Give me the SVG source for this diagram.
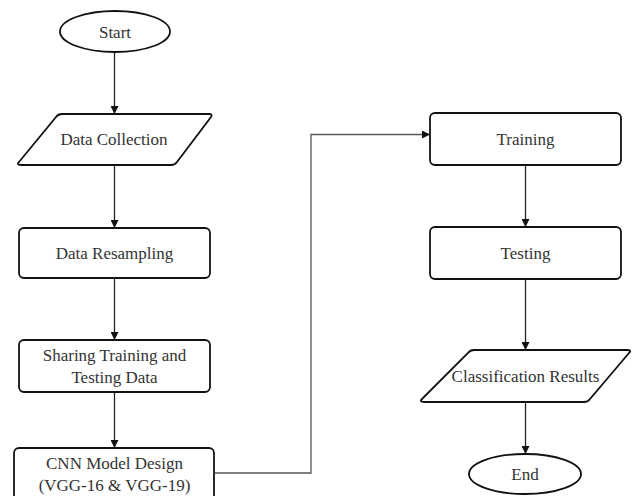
<svg xmlns="http://www.w3.org/2000/svg" width="634" height="496" viewBox="0 0 634 496">
<defs>
<style>
.shape{fill:#fff;stroke:#111;stroke-width:1.8;}
.lbl{font-family:"Liberation Serif","Times New Roman",serif;font-size:17px;fill:#333;text-anchor:middle;}
.conn{fill:none;stroke:#222;stroke-width:1.3;}
.conn2{fill:none;stroke:#555;stroke-width:1.3;}
</style>
<marker id="arr" viewBox="0 0 10 10" refX="10" refY="5" markerWidth="8" markerHeight="8" markerUnits="userSpaceOnUse" orient="auto">
<path d="M0,0 L10,5 L0,10 z" fill="#111"/>
</marker>
</defs>
<rect width="634" height="496" fill="#fff"/>
<g id="connectors">
<line class="conn" x1="114.5" y1="52" x2="114.5" y2="114" marker-end="url(#arr)"/>
<line class="conn" x1="114.5" y1="165" x2="114.5" y2="228" marker-end="url(#arr)"/>
<line class="conn" x1="114.5" y1="278" x2="114.5" y2="340" marker-end="url(#arr)"/>
<line class="conn" x1="114.5" y1="392" x2="114.5" y2="448" marker-end="url(#arr)"/>
<polyline class="conn2" points="215,473 311,473 311,134.5 430,134.5" marker-end="url(#arr)"/>
<line class="conn" x1="525.5" y1="165" x2="525.5" y2="227" marker-end="url(#arr)"/>
<line class="conn" x1="525.5" y1="279" x2="525.5" y2="350" marker-end="url(#arr)"/>
<line class="conn" x1="525.5" y1="402" x2="525.5" y2="454" marker-end="url(#arr)"/>
</g>
<g id="start">
<ellipse class="shape" cx="115" cy="31.5" rx="55" ry="20.5"/>
<text class="lbl" x="115" y="37.5">Start</text>
</g>
<g id="data-collection">
<path class="shape" d="M62,114 L209,114 Q213,114 211,117 L177,162 Q175,165 171,165 L21,165 Q16,165 19,162 L56,117 Q58,114 62,114 Z"/>
<text class="lbl" x="114" y="144.5">Data Collection</text>
</g>
<g id="data-resampling">
<rect class="shape" x="19" y="228" width="191" height="50" rx="5"/>
<text class="lbl" x="114.5" y="259">Data Resampling</text>
</g>
<g id="sharing">
<rect class="shape" x="19" y="340" width="191" height="52" rx="5"/>
<text class="lbl" x="114.5" y="361">Sharing Training and</text>
<text class="lbl" x="114.5" y="383">Testing Data</text>
</g>
<g id="cnn">
<rect class="shape" x="14" y="448" width="200" height="60" rx="5"/>
<text class="lbl" x="114.5" y="469">CNN Model Design</text>
<text class="lbl" x="114.5" y="491">(VGG-16 &amp; VGG-19)</text>
</g>
<g id="training">
<rect class="shape" x="430" y="113" width="191" height="52" rx="5"/>
<text class="lbl" x="525.5" y="145">Training</text>
</g>
<g id="testing">
<rect class="shape" x="430" y="227" width="191" height="52" rx="5"/>
<text class="lbl" x="525.5" y="258.5">Testing</text>
</g>
<g id="classification-results">
<path class="shape" d="M474,350 L627,350 Q632,350 629,353 L590,399 Q588,402 584,402 L424,402 Q419,402 422,399 L468,353 Q470,350 474,350 Z"/>
<text class="lbl" x="525.5" y="381.5">Classification Results</text>
</g>
<g id="end">
<ellipse class="shape" cx="525" cy="474" rx="56" ry="20"/>
<text class="lbl" x="525" y="480">End</text>
</g>
</svg>
